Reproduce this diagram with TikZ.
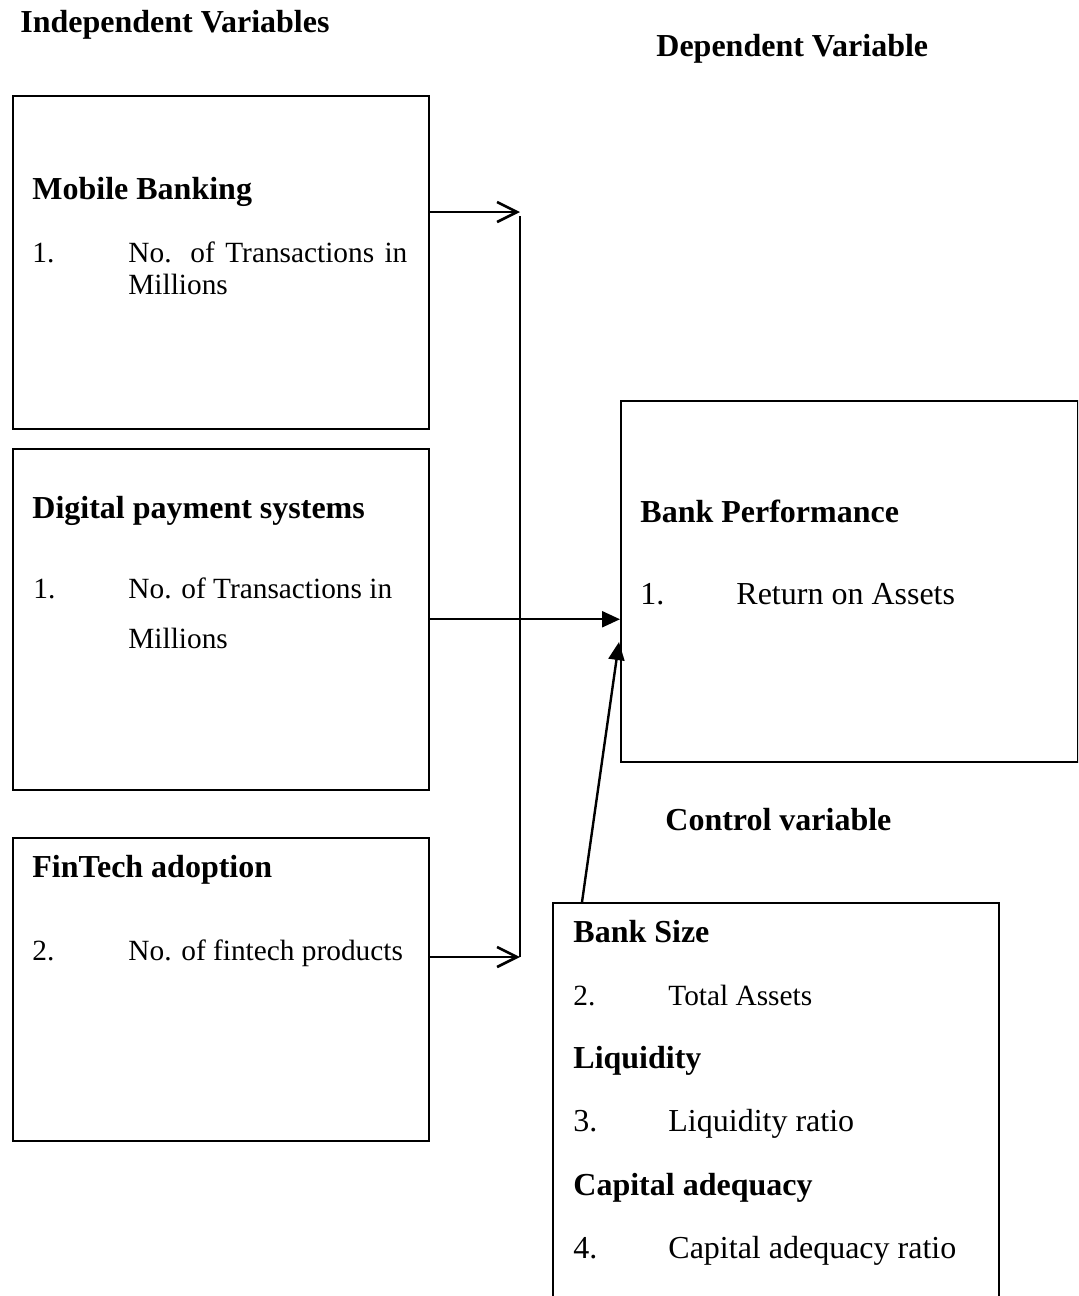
\documentclass[tikz,border=0pt]{standalone}
\usepackage{fontspec}
\setmainfont{Liberation Serif}
\usetikzlibrary{arrows.meta}
\begin{document}
\begin{tikzpicture}[x=0.5pt,y=-0.5pt,
  box/.style={draw, line width=0.75pt, inner sep=0pt, anchor=north west},
  hd/.style={anchor=base west, inner sep=0pt, font=\fontsize{16}{19}\selectfont\bfseries},
  bd/.style={anchor=base west, inner sep=0pt, font=\fontsize{14.67}{17}\selectfont},
  bdl/.style={anchor=base west, inner sep=0pt, font=\fontsize{16}{19}\selectfont},
  conn/.style={line width=1.2pt},
  openarr/.style={conn, -{Straight Barb[length=10pt,width=10pt,line width=1.3pt]}},
  fillarr/.style={conn, -{Triangle[length=9pt,width=8pt]}}]
\useasboundingbox (0,0) rectangle (1078,1296);
\clip (0,0) rectangle (1078,1296);

% headings
\node[hd] (hind) at (20,32) {Independent Variables};
\node[hd] (hdep) at (656,56) {Dependent Variable};
\node[hd] (hctl) at (665,830) {Control variable};

% boxes
\node[box, minimum width=208pt, minimum height=166.5pt] (mb) at (12,95) {};
\node[box, minimum width=208pt, minimum height=170.5pt] (dp) at (12,448) {};
\node[box, minimum width=208pt, minimum height=151.5pt] (ft) at (12,837) {};
\node[box, minimum width=228.5pt, minimum height=180.5pt] (pf) at (620,400) {};
\node[box, minimum width=223pt, minimum height=215pt] (cv) at (552,902) {};

% box 1 text
\node[hd] (mbt) at (32,199) {Mobile Banking};
\node[bd] (mbn) at (32,262) {1.};
\node[bd] (mbi) at (128,262) {\makebox[139.5pt][s]{No. of Transactions in}};
\node[bd] (mbm) at (128,294) {Millions};

% box 2 text
\node[hd] (dpt) at (32,518) {Digital payment systems};
\node[bd] (dpn) at (33,598) {1.};
\node[bd] (dpi) at (128,598) {No. of Transactions in};
\node[bd] (dpm) at (128,648) {Millions};

% box 3 text
\node[hd] (ftt) at (32,877) {FinTech adoption};
\node[bd] (ftn) at (32,960) {2.};
\node[bd] (fti) at (128,960) {No. of fintech products};

% box 4 text
\node[hd] (pft) at (640,522) {Bank Performance};
\node[bdl] (pfn) at (640,604) {1.};
\node[bdl] (pfi) at (736,604) {Return on Assets};

% box 5 text
\node[hd] (cv1) at (573,942) {Bank Size};
\node[bd] (cv1n) at (573,1005) {2.};
\node[bd] (cv1i) at (668,1005) {Total Assets};
\node[hd] (cv2) at (573,1068) {Liquidity};
\node[bdl] (cv2n) at (573,1131) {3.};
\node[bdl] (cv2i) at (668,1131) {Liquidity ratio};
\node[hd] (cv3) at (573,1195) {Capital adequacy};
\node[bdl] (cv3n) at (573,1258) {4.};
\node[bdl] (cv3i) at (668,1258) {Capital adequacy ratio};

% connectors
\coordinate (j1) at (520,212);
\coordinate (j3) at (520,957);
\coordinate (cs) at (582,902);
\coordinate (ct) at (619,642);
\draw[openarr] (mb.east |- j1) -- (j1);
\draw[openarr] (ft.east |- j3) -- (j3);
\draw[conn] ([yshift=-2pt]j1) -- (j3);
\draw[fillarr] (dp.east) -- (dp.east -| pf.west);
\draw[fillarr] (cs) -- (ct);
\end{tikzpicture}
\end{document}
